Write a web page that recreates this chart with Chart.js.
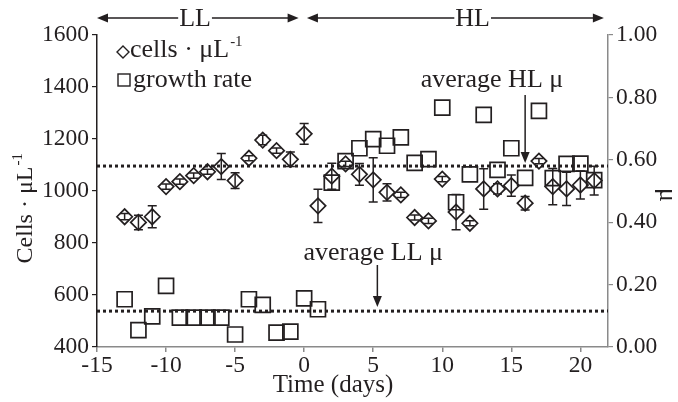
<!DOCTYPE html>
<html lang="en">
<head>
  <meta charset="UTF-8">
  <title>Cells and growth rate, LL vs HL</title>
  <style>
    html, body { margin: 0; padding: 0; background: #fff; }
    canvas { display: block; }
  </style>
</head>
<body>
<canvas id="chart" width="678" height="402"></canvas>

<script src="https://cdn.jsdelivr.net/npm/chart.js"></script>
<script>
  // days relative to the switch from low light (LL) to high light (HL)
  const days = [-13, -12, -11, -10, -9, -8, -7, -6, -5, -4, -3, -2, -1, 0,
                1, 2, 3, 4, 5, 6, 7, 8, 9, 10, 11, 12, 13, 14, 15, 16, 17, 18, 19, 20, 21];
  const cells = [901, 879, 901, 1017, 1036, 1059, 1074, 1094, 1040, 1126, 1196, 1155, 1122, 1220,
                 943, 1057, 1104, 1064, 1043, 995, 985, 898, 885, 1046, 919, 876, 1008, 1008, 1021, 953, 1115, 1017, 1008, 1023, 1040];
  const cellsErr = [12, 28, 42, 10, 10, 10, 10, 50, 30, 10, 18, 10, 28, 40,
                    64, 50, 10, 42, 85, 33, 10, 10, 10, 10, 68, 10, 78, 20, 41, 26, 10, 70, 64, 54, 55];
  const growthRate = [0.153, 0.054, 0.098, 0.196, 0.094, 0.094, 0.094, 0.094, 0.040, 0.153, 0.135, 0.046, 0.049, 0.156,
                      0.121, 0.527, 0.596, 0.637, 0.666, 0.645, 0.672, 0.590, 0.602, 0.767, 0.464, 0.553, 0.744, 0.568, 0.637, 0.542, 0.757, 0.541, 0.587, 0.588, 0.535];

  const avgLL = 0.115;
  const avgHL = 0.58;

  const xTicks = [-15, -10, -5, 0, 5, 10, 15, 20];
  const cellTicks = [400, 600, 800, 1000, 1200, 1400, 1600];
  const muTicks = [0, 0.2, 0.4, 0.6, 0.8, 1.0];

  // light phases shown with arrows above the plot
  const phaseNames = ['LL', 'HL'];
  const phaseStart = [-15, 0.2];
  const phaseEnd = [-0.4, 21.7];
  const phaseMid = [-7.9, 12.2];

  const FONT = '"Liberation Serif", "Times New Roman", serif';
  const INK = '#231f20';
  const GREY = '#8a8a8a';

  function drawArrowHead(ctx, x, y, dx, dy) {
    // dx, dy: unit direction the arrow points to
    const len = 11, half = 4.5;
    ctx.beginPath();
    ctx.moveTo(x, y);
    ctx.lineTo(x - dx * len - dy * half, y - dy * len + dx * half);
    ctx.lineTo(x - dx * len + dy * half, y - dy * len - dx * half);
    ctx.closePath();
    ctx.fill();
  }

  const errorBars = {
    id: 'errorBars',
    afterDatasetsDraw(chart) {
      const ctx = chart.ctx;
      const xs = chart.scales.x, ys = chart.scales.y;
      ctx.save();
      ctx.strokeStyle = INK;
      ctx.lineWidth = 1.5;
      days.forEach((d, i) => {
        const x = xs.getPixelForValue(d);
        const top = ys.getPixelForValue(cells[i] + cellsErr[i]);
        const bot = ys.getPixelForValue(cells[i] - cellsErr[i]);
        ctx.beginPath();
        ctx.moveTo(x, top); ctx.lineTo(x, bot);
        ctx.moveTo(x - 4.5, top); ctx.lineTo(x + 4.5, top);
        ctx.moveTo(x - 4.5, bot); ctx.lineTo(x + 4.5, bot);
        ctx.stroke();
      });
      ctx.restore();
    }
  };

  const decorations = {
    id: 'decorations',
    afterDraw(chart) {
      const ctx = chart.ctx;
      const xs = chart.scales.x, mu = chart.scales.y1;
      ctx.save();
      ctx.fillStyle = INK;
      ctx.strokeStyle = INK;
      ctx.lineWidth = 1.5;
      ctx.font = '26px ' + FONT;
      ctx.textBaseline = 'middle';
      ctx.textAlign = 'center';

      // phase arrows on top
      const yTop = 18;
      phaseNames.forEach((name, i) => {
        const x1 = xs.getPixelForValue(phaseStart[i]);
        const x2 = xs.getPixelForValue(phaseEnd[i]);
        const xm = xs.getPixelForValue(phaseMid[i]);
        const w = ctx.measureText(name).width / 2 + 1;
        ctx.beginPath();
        ctx.moveTo(x1 + 6, yTop); ctx.lineTo(xm - w, yTop);
        ctx.moveTo(xm + w, yTop); ctx.lineTo(x2 - 6, yTop);
        ctx.stroke();
        drawArrowHead(ctx, x1, yTop, -1, 0);
        drawArrowHead(ctx, x2, yTop, 1, 0);
        ctx.fillText(name, xm, yTop + 1);
      });

      // legend inside the plot
      ctx.textAlign = 'left';
      ctx.textBaseline = 'alphabetic';
      ctx.lineWidth = 1.4;
      ctx.beginPath();
      ctx.moveTo(123, 46); ctx.lineTo(129, 52); ctx.lineTo(123, 58); ctx.lineTo(117, 52); ctx.closePath();
      ctx.stroke();
      ctx.strokeRect(118, 74, 12, 12);
      ctx.fillText('cells · μL', 130, 57);
      const wc = ctx.measureText('cells · μL').width;
      ctx.font = '15px ' + FONT;
      ctx.fillText('-1', 130 + wc + 1, 46);
      ctx.font = '26px ' + FONT;
      ctx.fillText('growth rate', 133, 87);

      // average annotations
      ctx.lineWidth = 1.5;
      ctx.textAlign = 'center';
      const hx = xs.getPixelForValue(16);
      ctx.fillText('average HL μ', xs.getPixelForValue(13.6), 87);
      ctx.beginPath();
      ctx.moveTo(hx, 95); ctx.lineTo(hx, mu.getPixelForValue(avgHL) - 10);
      ctx.stroke();
      drawArrowHead(ctx, hx, mu.getPixelForValue(avgHL) - 3, 0, 1);

      const lx = xs.getPixelForValue(5.3);
      ctx.fillText('average LL μ', xs.getPixelForValue(5.0), 260);
      ctx.beginPath();
      ctx.moveTo(lx, 265); ctx.lineTo(lx, mu.getPixelForValue(avgLL) - 10);
      ctx.stroke();
      drawArrowHead(ctx, lx, mu.getPixelForValue(avgLL) - 4, 0, 1);

      // axis titles
      ctx.textBaseline = 'middle';
      ctx.font = '25px ' + FONT;
      ctx.fillText('Time (days)', 333, 385);

      ctx.save();
      ctx.translate(26, 209);
      ctx.rotate(-Math.PI / 2);
      ctx.font = '24px ' + FONT;
      ctx.fillText('Cells · μL', -6, 0);
      const wl = ctx.measureText('Cells · μL').width;
      ctx.font = '15px ' + FONT;
      ctx.textAlign = 'left';
      ctx.fillText('-1', -6 + wl / 2 + 1, -8);
      ctx.restore();

      ctx.save();
      ctx.translate(667, 195);
      ctx.rotate(Math.PI / 2);
      ctx.font = '26px ' + FONT;
      ctx.fillText('μ', 0, 0);
      ctx.restore();

      ctx.restore();
    }
  };

  const tickFont = { family: FONT, size: 23.5 };

  new Chart(document.getElementById('chart').getContext('2d'), {
    type: 'scatter',
    data: {
      datasets: [
        {
          label: 'cells · μL-1',
          data: days.map((d, i) => ({ x: d, y: cells[i] })),
          yAxisID: 'y',
          pointStyle: 'rectRot',
          pointRadius: 7.7,
          borderColor: INK,
          borderWidth: 1.7,
          backgroundColor: 'rgba(0,0,0,0)'
        },
        {
          label: 'growth rate',
          data: days.map((d, i) => ({ x: d, y: growthRate[i] })),
          yAxisID: 'y1',
          pointStyle: 'rect',
          pointRadius: 10.6,
          borderColor: INK,
          borderWidth: 1.7,
          backgroundColor: 'rgba(0,0,0,0)'
        },
        {
          type: 'line',
          label: 'average LL μ',
          data: [{ x: -15, y: avgLL }, { x: 22, y: avgLL }],
          yAxisID: 'y1',
          borderColor: INK,
          borderWidth: 3,
          borderDash: [3, 3],
          pointRadius: 0
        },
        {
          type: 'line',
          label: 'average HL μ',
          data: [{ x: -15, y: avgHL }, { x: 22, y: avgHL }],
          yAxisID: 'y1',
          borderColor: INK,
          borderWidth: 3,
          borderDash: [3, 3],
          pointRadius: 0
        }
      ]
    },
    options: {
      responsive: false,
      animation: false,
      layout: { padding: { top: 35, left: 0, right: 0, bottom: 0 } },
      plugins: { legend: { display: false }, tooltip: { enabled: false } },
      scales: {
        x: {
          type: 'linear',
          min: -15, max: 22,
          afterBuildTicks: s => { s.ticks = xTicks.map(v => ({ value: v })); },
          afterFit: s => { s.height = 55; },
          grid: { drawOnChartArea: false, tickLength: 5, color: GREY, lineWidth: 1.5 },
          border: { color: GREY, width: 1.5 },
          ticks: { font: tickFont, color: INK, padding: 0, maxRotation: 0, callback: v => String(v) }
        },
        y: {
          position: 'left',
          min: 400, max: 1600,
          afterBuildTicks: s => { s.ticks = cellTicks.map(v => ({ value: v })); },
          afterFit: s => { s.width = 97; },
          grid: { drawOnChartArea: false, tickLength: 5, color: INK, lineWidth: 1.2 },
          border: { color: INK, width: 1.5 },
          ticks: { font: tickFont, color: INK, padding: 3, callback: v => String(v) }
        },
        y1: {
          position: 'right',
          min: 0, max: 1,
          afterBuildTicks: s => { s.ticks = muTicks.map(v => ({ value: v })); },
          afterFit: s => { s.width = 70; },
          grid: { drawOnChartArea: false, tickLength: 5, color: GREY, lineWidth: 1.2 },
          border: { color: GREY, width: 1.5 },
          ticks: { font: tickFont, color: INK, padding: 3, callback: v => v.toFixed(2) }
        }
      }
    },
    plugins: [errorBars, decorations]
  });
</script>
</body>
</html>
